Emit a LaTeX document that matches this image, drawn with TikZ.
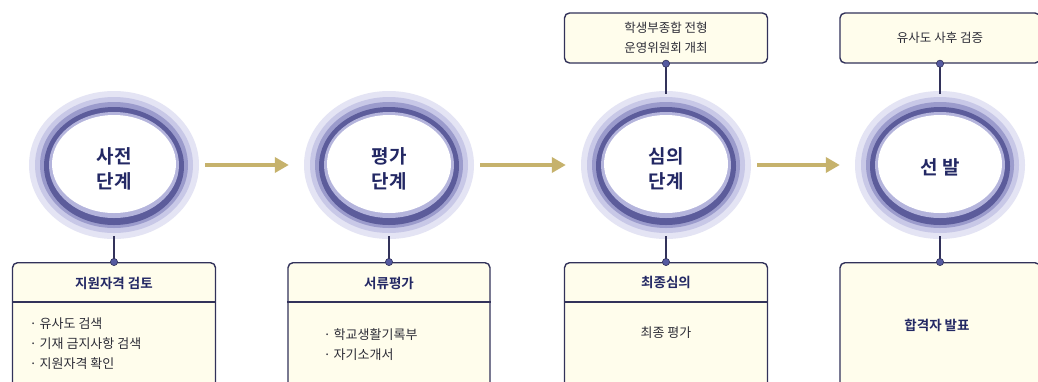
\documentclass[tikz,border=0pt]{standalone}
\usepackage{fontspec}
\setmainfont{Noto Sans CJK KR}[BoldFont={Noto Sans CJK KR Bold}]
\usetikzlibrary{arrows.meta,shapes.geometric}
\definecolor{navy}{RGB}{35,40,100}
\definecolor{boxline}{RGB}{50,50,90}
\definecolor{boxfill}{RGB}{255,253,236}
\definecolor{gold}{RGB}{198,178,108}
\definecolor{haloA}{RGB}{228,228,244}
\definecolor{haloB}{RGB}{200,200,231}
\definecolor{haloC}{RGB}{155,155,204}
\definecolor{ringD}{RGB}{92,92,155}
\definecolor{ringE}{RGB}{180,180,220}
\definecolor{itemtext}{RGB}{45,45,55}
\definecolor{dotfill}{RGB}{85,90,160}
\tikzset{
  ringpic/.pic={
    \fill[haloA] (0,0) ellipse [x radius=85pt, y radius=74pt];
    \fill[haloB] (0,0) ellipse [x radius=79pt, y radius=68pt];
    \fill[haloC] (0,0) ellipse [x radius=74pt, y radius=63pt];
    \fill[ringD] (0,1) ellipse [x radius=70pt, y radius=59pt];
    \fill[ringE] (0,0) ellipse [x radius=65pt, y radius=53pt];
    \fill[white] (0,-1) ellipse [x radius=62pt, y radius=49pt];
  },
  stage/.style={ellipse, minimum width=164pt, minimum height=142pt, inner sep=0pt},
  stagetext/.style={font=\bfseries\fontsize{19}{25}\selectfont, text=navy, align=center},
  lowbox/.style={draw=boxline, line width=1.4pt, fill=boxfill, rounded corners=5pt, minimum height=170pt, anchor=north},
  topbox/.style={draw=boxline, line width=1.4pt, fill=boxfill, rounded corners=5pt, minimum height=50pt},
  boxtitle/.style={font=\bfseries\fontsize{13.5}{16}\selectfont, text=navy},
  item/.style={font=\fontsize{13}{20}\selectfont, text=itemtext, align=left, anchor=west},
  toptext/.style={font=\fontsize{12.5}{20}\selectfont, text=itemtext, align=center},
  conn/.style={draw=boxline, line width=1.5pt},
  flow/.style={draw=gold, line width=4pt, -{Triangle[length=14pt,width=15pt]}, shorten <=9pt, shorten >=18pt},
}
\newcommand{\joint}[1]{\fill[dotfill, draw=boxline, line width=0.6pt] (#1) circle (3.6pt);}
\begin{document}
\begin{tikzpicture}[x=1pt,y=-1pt]
\useasboundingbox (0,0) rectangle (1038,381);
\clip (0,0) rectangle (1038,381);
\fill[white] (0,0) rectangle (1038,381);

% rings
\pic at (114,165) {ringpic};
\pic at (389,165) {ringpic};
\pic at (666,165) {ringpic};
\pic at (940,165) {ringpic};

\node[stage] (c1) at (114,165) {};
\node[stage] (c2) at (389,165) {};
\node[stage] (c3) at (666,165) {};
\node[stage] (c4) at (940,165) {};

\node[stagetext] (s1) at (114,169) {사전\\단계};
\node[stagetext] (s2) at (389,169) {평가\\단계};
\node[stagetext] (s3) at (666,169) {심의\\단계};
\node[stagetext] (s4) at (940,167) {선 발};

% flow arrows
\draw[flow] (c1) -- (c2);
\draw[flow] (c2) -- (c3);
\draw[flow] (c3) -- (c4);

% bottom boxes
\node[lowbox, minimum width=203pt] (b1) at (114,262) {};
\node[lowbox, minimum width=202pt] (b2) at (389,262) {};
\node[lowbox, minimum width=203pt] (b3) at (666,262) {};
\node[lowbox, minimum width=200pt] (b4) at (940,262) {};

\draw[conn] (b1.north west |- 0,302) -- (b1.north east |- 0,302);
\draw[conn] (b2.north west |- 0,302) -- (b2.north east |- 0,302);
\draw[conn] (b3.north west |- 0,302) -- (b3.north east |- 0,302);

\node[boxtitle] (h1) at (114,283) {지원자격 검토};
\node[boxtitle] (h2) at (389,283) {서류평가};
\node[boxtitle] (h3) at (666,282) {최종심의};

\node[item] (i11) at (26,324) {· 유사도 검색};
\node[item] (i12) at (26,344) {· 기재 금지사항 검색};
\node[item] (i13) at (26,364) {· 지원자격 확인};

\node[item] (i21) at (320,335) {· 학교생활기록부};
\node[item] (i22) at (320,355) {· 자기소개서};

\node[font=\fontsize{13}{16}\selectfont, text=itemtext] (i31) at (666,333) {최종 평가};
\node[boxtitle] (i41) at (937,325) {합격자 발표};

% top boxes
\node[topbox, minimum width=203pt] (t3) at (666,38) {};
\node[topbox, minimum width=200pt] (t4) at (940,38) {};
\node[toptext] (tt3) at (666,38) {학생부종합 전형\\운영위원회 개최};
\node[toptext] (tt4) at (940,38) {유사도 사후 검증};

% vertical connectors
\draw[conn] (c1) -- (b1.north);
\draw[conn] (c2) -- (b2.north);
\draw[conn] (c3) -- (b3.north);
\draw[conn] (c4) -- (b4.north);
\draw[conn] (t3.south) -- (c3);
\draw[conn] (t4.south) -- (c4);

\joint{b1.north}
\joint{b2.north}
\joint{b3.north}
\joint{b4.north}
\joint{t3.south}
\joint{t4.south}
\end{tikzpicture}
\end{document}
